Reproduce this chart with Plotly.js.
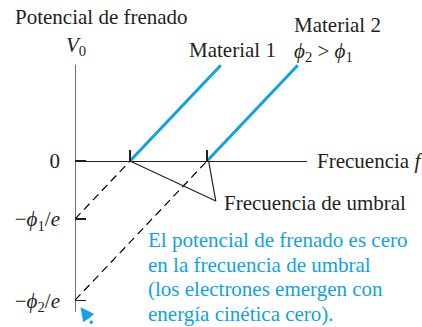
<!DOCTYPE html>
<html>
<head>
<meta charset="utf-8">
<script src="https://cdn.plot.ly/plotly-3.0.1.min.js"></script>
<style>
  html, body { margin: 0; padding: 0; background: #fff; }
  #grafico { width: 422px; height: 327px; }
</style>
</head>
<body>
<div id="grafico"></div>
<script>
// Datos (unidades arbitrarias: f y V0)
var frecUmbral = [1.0, 2.4];          // frecuencia de umbral material 1 y 2
var potCorte = [-1.0, -2.4];          // -phi/e para cada material
var material1F = [1.0, 2.65];
var material1V = [0, 1.65];
var material2F = [2.4, 4.05];
var material2V = [0, 1.65];
var ejeVF = [0, 0];
var ejeVV = [1.66, -2.6];
var flechaF = [0.31, 0.13];
var flechaV = [-2.8, -2.56];
var punteroF = [1.0, 2.56, 2.43];
var punteroV = [0, -0.69, 0];
var etiquetasV = ["0", "\u2212<i>\u03d5</i><sub>1</sub>/<i>e</i>", "\u2212<i>\u03d5</i><sub>2</sub>/<i>e</i>"];
var textoAzul = [
  "El potencial de frenado es cero",
  "en la frecuencia de umbral",
  "(los electrones emergen con",
  "energía cinética cero)."
];

var negro = "#231f20";
var azul = "#10a2e4";
var fuente = "Liberation Serif, Times New Roman, serif";

// posicion en pixeles -> coordenadas de papel (area de trazado 75..307 x 55..327)
function px(x) { return (x - 75) / 232; }
function py(y) { return (327 - y) / 272; }

var trazas = [
  { x: ejeVF, y: ejeVV, mode: "lines", line: { color: negro, width: 1.3 } },
  { x: [0, frecUmbral[0]], y: [potCorte[0], 0], mode: "lines", line: { color: "#000", width: 1.2, dash: "8px,5px" } },
  { x: [0, frecUmbral[1]], y: [potCorte[1], 0], mode: "lines", line: { color: "#000", width: 1.2, dash: "8px,5px" } },
  { x: punteroF, y: punteroV, mode: "lines", line: { color: negro, width: 1.2 } },
  { x: material1F, y: material1V, mode: "lines", line: { color: azul, width: 3 } },
  { x: material2F, y: material2V, mode: "lines", line: { color: azul, width: 3 } },
  {
    x: flechaF, y: flechaV, mode: "lines",
    line: { color: azul, width: 3.2, dash: "3px,3px" }
  }
];

var anotaciones = [
  { x: px(13), y: py(17), text: "Potencial de frenado", xanchor: "left" },
  { x: px(76), y: py(46), text: "<i>V</i><sub>0</sub>", xanchor: "center" },
  { x: px(187), y: py(50), text: "Material 1", xanchor: "left" },
  { x: px(292), y: py(25), text: "Material 2", xanchor: "left" },
  { x: px(292), y: py(52), text: "<i>\u03d5</i><sub>2</sub> > <i>\u03d5</i><sub>1</sub>", xanchor: "left" },
  { x: px(315), y: py(161), text: "Frecuencia <i>f</i>", xanchor: "left" },
  { x: px(222), y: py(203), text: "Frecuencia de umbral", xanchor: "left" }
].map(function (a) {
  a.xref = "paper";
  a.yref = "paper";
  a.showarrow = false;
  a.yanchor = "middle";
  a.font = { family: fuente, size: 21, color: negro };
  return a;
});

var filasAzul = [240, 265, 289, 314];
textoAzul.forEach(function (t, i) {
  anotaciones.push({
    xref: "paper", yref: "paper",
    x: px(146), y: py(filasAzul[i]), text: t, xanchor: "left", yanchor: "middle",
    showarrow: false, font: { family: fuente, size: 21, color: azul }
  });
});

// punta de la flecha punteada
anotaciones.push({
  x: flechaF[1] - 0.03, y: flechaV[1] + 0.04, xref: "x", yref: "y",
  text: "", showarrow: true, ax: 6, ay: 8,
  arrowhead: 2, arrowsize: 1.1, arrowwidth: 2.5, arrowcolor: azul, standoff: 0
});

var tampilan = {
  width: 422,
  height: 327,
  margin: { l: 75, r: 115, t: 55, b: 0 },
  paper_bgcolor: "#fff",
  plot_bgcolor: "rgba(0,0,0,0)",
  showlegend: false,
  xaxis: {
    range: [0, 4.218],
    anchor: "free",
    position: 0.6102,
    showgrid: false,
    zeroline: false,
    showline: true,
    linecolor: negro,
    linewidth: 1.3,
    ticks: "inside",
    ticklen: 11,
    tickwidth: 1.2,
    tickcolor: negro,
    tickvals: frecUmbral,
    showticklabels: false
  },
  yaxis: {
    range: [-2.862, 1.828],
    showgrid: false,
    zeroline: false,
    showline: false,
    ticks: "inside",
    ticklen: 11,
    tickwidth: 1.2,
    tickcolor: negro,
    tickvals: [0].concat(potCorte),
    ticktext: etiquetasV,
    ticklabelstandoff: 14,
    tickfont: { family: fuente, size: 21, color: negro }
  },
  annotations: anotaciones
};

Plotly.newPlot("grafico", trazas, tampilan, { staticPlot: true });
</script>
</body>
</html>
